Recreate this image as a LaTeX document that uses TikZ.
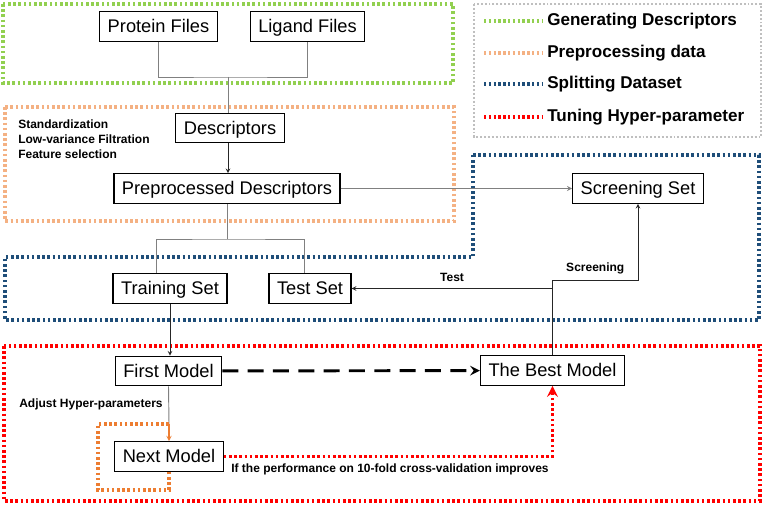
\documentclass[tikz,border=0pt]{standalone}
\usepackage{fontspec}
\setmainfont{Liberation Sans}
\usetikzlibrary{arrows}
\definecolor{gendesc}{RGB}{146,208,80}
\definecolor{prepdata}{RGB}{244,177,131}
\definecolor{splitset}{RGB}{31,78,121}
\definecolor{tunehp}{RGB}{255,0,0}
\definecolor{adjhp}{RGB}{237,125,49}
\definecolor{legframe}{RGB}{191,191,191}

\begin{document}
\begin{tikzpicture}[x=0.75pt,y=-0.75pt,>=stealth,
    block/.style={draw,line width=0.9pt,fill=white,inner xsep=6pt,minimum height=22pt,text height=11pt,text depth=1.4pt,font=\fontsize{13.7}{16}\selectfont},
    conn/.style={draw=black!50,line width=0.7pt},
    link/.style={draw=black!85,line width=0.6pt},
    dots/.style={line width=2.6pt,dash pattern=on 2pt off 1.9pt},
    bigdash/.style={line width=2.2pt,dash pattern=on 12pt off 7pt},
    note/.style={inner sep=0pt,font=\bfseries\fontsize{9}{11.25}\selectfont},
    legtext/.style={inner sep=0pt,anchor=west,font=\bfseries\fontsize{12.8}{15}\selectfont}]
      \fill[white] (0,0) rectangle (764,506);
      \useasboundingbox (0,0) rectangle (764,506);

      % stage frames
      \draw[gendesc,dots] (3,4) rectangle (453,83);
      \draw[prepdata,dots] (5,107) rectangle (454,221);
      \draw[splitset,dots] (473,155) -- (759,155) -- (759,320) -- (5,320) -- (5,257) -- (473,257) -- cycle;
      \draw[tunehp,dots] (4,346) rectangle (760,501);
      \draw[legframe,line width=1.8pt,dash pattern=on 1.4pt off 1.5pt] (474,4) rectangle (761,137);

      \node[block] (prot) at (158.5,26.5) {Protein Files};
      \node[block,right of=prot,node distance=111.75pt] (lig) {Ligand Files};
      \node[block] (desc) at (230,128) {Descriptors};
      \node[block] (prep) at (227,188.5) {Preprocessed Descriptors};
      \node[block] (screen) at (638,188.5) {Screening Set};
      \node[block] (train) at (170,288.5) {Training Set};
      \node[block,right of=train,node distance=105pt] (test) {Test Set};
      \node[block] (first) at (168.5,371) {First Model};
      \node[block] (best) at (552.5,370.5) {The Best Model};
      \node[block] (next) at (169,456.5) {Next Model};

      \node[note,anchor=west,align=left] (steps) at (18,139) {Standardization\\Low-variance Filtration\\Feature selection};
      \node[note,anchor=west] (adjlbl) at (19,404) {Adjust Hyper-parameters};
      \node[note,anchor=west] (cvlbl) at (231,469) {If the performance on 10-fold cross-validation improves};

      \coordinate (j1) at (228,77);
      \coordinate (j2) at (227,239);
      \coordinate (j3) at (552.5,280);
      \coordinate (ot) at (169,424);

      \draw[conn] (prot.south) |- (j1) -| (lig.south);
      \draw[conn] (j1) -- (j1 |- desc.north);
      \draw[link,->] (j1 |- desc.south) -- (j1 |- prep.north);
      \draw[conn,->] (prep) -- (screen);
      \draw[conn] (prep) -- (j2);
      \draw[conn] ([xshift=-10.5pt]train.north) |- (j2) -| ([xshift=-4.5pt]test.north);
      \draw[link,->] (train.south) -- (train.south |- first.north);
      \draw[link,->] (best.north) -- (j3) -| node[note,above=4pt,pos=0.25] (scrlbl) {Screening} (screen.south);
      \draw[link,->] (best.north |- test.east) -- node[note,above=5pt] (testlbl) {Test} (test.east);
      \draw[bigdash,->] (first) -- (best);

      % tuning loop
      \draw[conn] (first.south) -- (ot);
      \draw[adjhp,line width=0.8pt,->] (ot) -- (next.north);
      \draw[adjhp,dots] (ot) -| (98,490) -| (next.south);
      \draw[tunehp,dots,->] (next.east) -| (best.south);

      % legend
      \foreach \y/\c/\t [count=\i] in {21/gendesc/Generating Descriptors, 53/prepdata/Preprocessing data, 84/splitset/Splitting Dataset, 117/tunehp/Tuning Hyper-parameter} {
        \draw[\c,line width=2.4pt,dash pattern=on 1.8pt off 1.8pt] (484,\y) -- (542,\y);
        \node[legtext] (leg\i) at (547,\y) {\t};
      }
    \end{tikzpicture}
\end{document}
